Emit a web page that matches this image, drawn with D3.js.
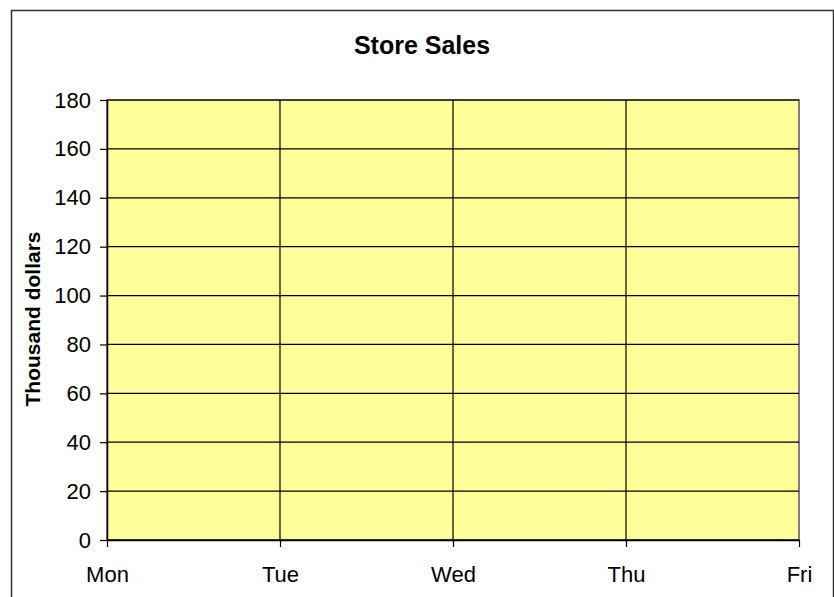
<!DOCTYPE html>
<html>
<head>
<meta charset="utf-8">
<script src="https://cdn.jsdelivr.net/npm/d3@7"></script>
<style>
  body { margin: 0; background: #fff; }
  text { font-family: "Liberation Sans", Arial, sans-serif; fill: #000; }
  .title { font-weight: bold; font-size: 25px; }
  .label { font-weight: bold; font-size: 21px; }
</style>
</head>
<body>
<div id="chart"></div>
<script>
// store sales chart (empty series, grid only)

const days = ["Mon", "Tue", "Wed", "Thu", "Fri"];
const yTicks = [0, 20, 40, 60, 80, 100, 120, 140, 160, 180];
const sales = []; // no values plotted in the reference

const W = 834, H = 597;
const plot = { left: 107, top: 100, right: 799, bottom: 540 };

const svg = d3.select("#chart").append("svg")
  .attr("width", W)
  .attr("height", H);

// outer chart frame
svg.append("rect")
  .attr("x", 11.5).attr("y", 10.5)
  .attr("width", 822).attr("height", 620)
  .attr("fill", "#fff")
  .attr("stroke", "#333")
  .attr("stroke-width", 1.5);

const xScale = d3.scalePoint()
  .domain(days)
  .range([plot.left, plot.right]);

const yScale = d3.scaleLinear()
  .domain([0, 180])
  .range([plot.bottom, plot.top]);

// plot area
svg.append("rect")
  .attr("x", plot.left).attr("y", plot.top)
  .attr("width", plot.right - plot.left)
  .attr("height", plot.bottom - plot.top)
  .attr("fill", "#ffff99")
  .attr("stroke", "#555")
  .attr("stroke-width", 1.5);

// horizontal grid
svg.append("g")
  .selectAll("line")
  .data(yTicks)
  .join("line")
  .attr("x1", plot.left).attr("x2", plot.right)
  .attr("y1", d => yScale(d)).attr("y2", d => yScale(d))
  .attr("stroke", "#000")
  .attr("stroke-width", 1.2);

// vertical grid
svg.append("g")
  .selectAll("line")
  .data(days.slice(1, -1))
  .join("line")
  .attr("x1", d => xScale(d)).attr("x2", d => xScale(d))
  .attr("y1", plot.top).attr("y2", plot.bottom)
  .attr("stroke", "#000")
  .attr("stroke-width", 1.2);

// sales line (empty)
svg.append("path")
  .datum(sales)
  .attr("fill", "none")
  .attr("stroke", "#000080")
  .attr("d", d3.line().x((d, i) => xScale(days[i])).y(d => yScale(d)));

const yAxis = svg.append("g")
  .attr("transform", `translate(${plot.left}, 0)`)
  .call(d3.axisLeft(yScale).tickValues(yTicks).tickSize(7).tickPadding(9).tickSizeOuter(0));

const xAxis = svg.append("g")
  .attr("transform", `translate(0, ${plot.bottom})`)
  .call(d3.axisBottom(xScale).tickSize(7).tickPadding(19).tickSizeOuter(0));

[yAxis, xAxis].forEach(a => {
  a.attr("font-size", null).attr("font-family", null);
  a.select(".domain").attr("stroke", "#000").attr("stroke-width", 1.5);
  a.selectAll(".tick line").attr("stroke", "#000").attr("stroke-width", 1.2);
  a.selectAll(".tick text").attr("fill", "#000").style("font-size", "22px");
});

svg.append("text")
  .attr("class", "title")
  .attr("x", 422)
  .attr("y", 54)
  .attr("text-anchor", "middle")
  .text("Store Sales");

svg.append("text")
  .attr("class", "label")
  .attr("transform", "translate(40, 319) rotate(-90)")
  .attr("text-anchor", "middle")
  .text("Thousand dollars");
</script>
</body>
</html>
